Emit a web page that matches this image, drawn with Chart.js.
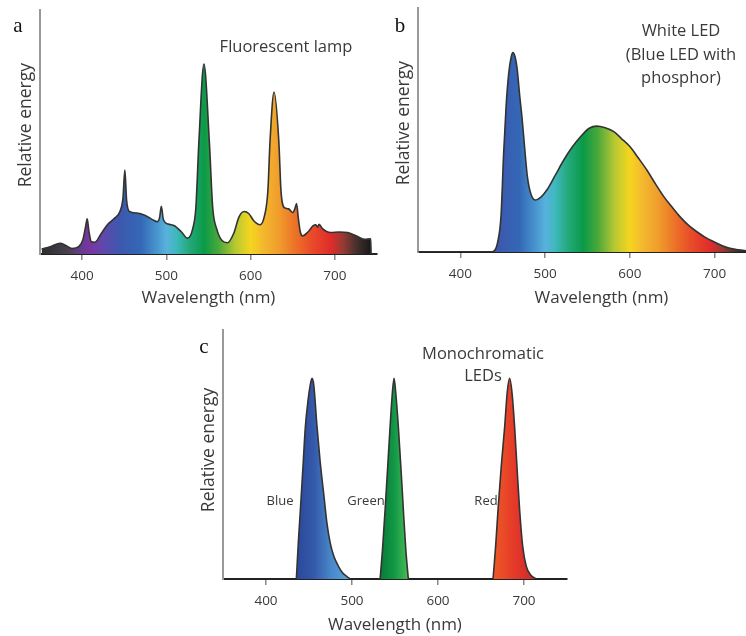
<!DOCTYPE html>
<html>
<head>
<meta charset="utf-8">
<script src="https://cdn.jsdelivr.net/npm/chart.js@4.4.1/dist/chart.umd.min.js"></script>
<style>
  html, body { margin: 0; padding: 0; background: #fff; }
  #page { position: relative; width: 746px; height: 636px; overflow: hidden; font-family: "Open Sans", sans-serif; color: #3a3a3a; }
  canvas { position: absolute; }
  .txt { position: absolute; white-space: nowrap; transform: translate(-50%, -50%); text-align: center; }
  .letter { font-family: "Liberation Serif", serif; font-size: 21px; color: #111; line-height: 1; }
  .title { font-size: 16.5px; line-height: 23px; }
  .small { font-size: 13px; line-height: 1; }
</style>
</head>
<body>
<div id="page">
  <canvas id="chartA" width="380" height="310" style="left:0;top:0"></canvas>
  <canvas id="chartB" width="410" height="310" style="left:380px;top:0"></canvas>
  <canvas id="chartC" width="400" height="316" style="left:180px;top:320px"></canvas>

  <div class="txt letter" style="left:18px;top:25px">a</div>
  <div class="txt letter" style="left:400px;top:25px">b</div>
  <div class="txt letter" style="left:204px;top:346px">c</div>

  <div class="txt title" style="left:286px;top:45px">Fluorescent lamp</div>
  <div class="txt title" style="left:681px;top:53px;line-height:23.5px">White LED<br>(Blue LED with<br>phosphor)</div>
  <div class="txt title" style="left:483px;top:364px;line-height:22px">Monochromatic<br>LEDs</div>

  <div class="txt small" style="left:280px;top:500px">Blue</div>
  <div class="txt small" style="left:366px;top:500px">Green</div>
  <div class="txt small" style="left:486px;top:500px">Red</div>
</div>
<script>
// wavelength ticks shared by all three panels
const xTicks = [400, 500, 600, 700];

// a: fluorescent lamp spectrum (nm, relative energy 0-100)
const fluorNm = [352, 362, 374, 380, 388, 396, 401, 404, 406, 408, 411, 415, 422, 430, 438, 445, 448.5, 450.7, 452.8, 456,
  465, 475, 484, 489, 492, 494, 496.5, 502, 510, 518, 525, 531, 535, 538.6, 544.6, 551, 555, 560, 566, 572.4,
  580, 586, 592.2, 598, 604, 611.2, 616, 620.5, 623, 627.8, 633.5, 636, 640, 645, 650, 652.5, 654.5, 656.5, 659, 661.6,
  668, 674, 677.4, 679.5, 681.3, 685, 695, 705, 715, 725, 735, 742.5, 743];
const fluorEnergy = [2, 3, 4.4, 3.6, 2.2, 3, 6, 11, 14.4, 9.5, 5, 4.8, 8, 12, 14.5, 17.5, 23, 34.4, 22, 17.5,
  16.8, 15.8, 14, 13.2, 15, 19.5, 14, 12.3, 11.5, 9, 6.5, 10, 19, 46, 77.8, 46, 19, 10, 5.5, 4.6,
  8.5, 15, 17.4, 16.5, 13.5, 12, 15, 26, 46, 66.4, 46, 26, 19, 18.5, 17, 18.5, 20.7, 15, 9, 7.4,
  9, 11.5, 12, 11, 12.2, 10.5, 8.8, 9, 8.8, 7.5, 6, 6.2, 0];

// b: white LED (blue LED + phosphor)
const whiteNm = [350, 435, 440, 444, 448, 451, 454, 457, 460, 462, 464.5, 467, 470, 473, 476, 479, 483, 488.5, 495,
  502, 512, 522, 532, 542, 552, 561, 570, 581, 590, 600, 610, 620, 630, 640, 650, 659, 669, 679, 689, 699,
  709, 718, 728, 737, 760, 783];
const whiteEnergy = [0, 0, 0.5, 4, 15, 40, 60, 73, 80, 81.7, 80, 75, 64, 54, 42, 31, 24, 21.3, 22.5,
  25.4, 31.5, 37.7, 43, 47.3, 50.7, 51.6, 51, 49.3, 46.5, 43.2, 38.5, 33.6, 28, 22.7, 18.3, 14.5, 11, 8.3, 6, 4.2,
  2.6, 1.5, 0.9, 0.5, 0.2, 0];

// c: monochromatic LEDs
const blueNm = [435.3, 437.5, 440, 443, 445.8, 449, 451.5, 453.5, 455.5, 459.3, 463, 467, 471, 474.7, 479, 484.4, 489, 494.1, 498];
const blueEnergy = [0, 14, 27.8, 45, 61.2, 72, 78, 80.6, 78, 61.2, 47, 34.5, 22, 14.4, 9, 5, 2.5, 1, 0];
const greenNm = [532.7, 535.5, 538.5, 541.5, 544.3, 547, 548.9, 550.8, 553.9, 557, 559.7, 562.5, 565.5];
const greenEnergy = [0, 12, 27.8, 45, 61.2, 75, 80.6, 75, 61, 44, 27.8, 12, 0];
const redNm = [664, 667, 669.8, 673.5, 677.5, 680.5, 683.3, 686, 689.1, 692, 694.9, 698.5, 702.7, 708, 714.3];
const redEnergy = [0, 13, 27.8, 45, 61, 75, 80.6, 75, 61, 44, 27.8, 13, 5, 1.5, 0];

// colour stops along the spectrum (nm, colour)
const spectrumStops = [[350, '#2b2b2b'], [382, '#48404c'], [400, '#6a3a92'], [410, '#7836a0'], [425, '#6048ac'],
  [445, '#3c58ae'], [470, '#3468b6'], [490, '#4a98d0'], [500, '#58b2dc'], [512, '#3eb8bc'], [528, '#22a878'],
  [545, '#0a9a48'], [562, '#4aa83a'], [582, '#b8c832'], [600, '#f5d51f'], [615, '#f3b82e'], [633, '#f09e2c'],
  [655, '#ec6e28'], [672, '#e84c2a'], [695, '#e02c2a'], [710, '#963a34'], [726, '#42302e'], [745, '#141414']];
const blueStops = [[435, '#2a489a'], [455, '#3458aa'], [475, '#4886c8'], [498, '#5aa8dc']];
const greenStops = [[532, '#0a7838'], [549, '#119846'], [566, '#4cbc54']];
const redStops = [[664, '#ee5a26'], [690, '#e4382a'], [714, '#c8282a']];

const FONT = '"Open Sans", sans-serif';
const TEXT = '#3a3a3a';

function toPoints(xs, ys) {
  return xs.map((x, i) => ({x: x, y: ys[i]}));
}

function gradientFill(stops) {
  const lo = stops[0][0], hi = stops[stops.length - 1][0];
  return function (context) {
    const chart = context.chart;
    if (!chart.chartArea) return null;
    const x = chart.scales.x;
    const g = chart.ctx.createLinearGradient(x.getPixelForValue(lo), 0, x.getPixelForValue(hi), 0);
    stops.forEach(([nm, col]) => g.addColorStop((nm - lo) / (hi - lo), col));
    return g;
  };
}

function spectrumSet(xs, ys, stops) {
  return {
    data: toPoints(xs, ys),
    backgroundColor: gradientFill(stops),
    borderColor: '#333',
    borderWidth: 1.6,
    fill: 'origin',
    pointRadius: 0,
    cubicInterpolationMode: 'monotone'
  };
}

// p = pixel layout of a panel: plot box inside its canvas
function makeChart(id, datasets, xMax, p) {
  return new Chart(document.getElementById(id), {
    type: 'line',
    data: {datasets: datasets},
    options: {
      responsive: false,
      animation: false,
      events: [],
      layout: {padding: {top: p.top, right: p.right, left: 0, bottom: 0}},
      plugins: {legend: {display: false}, tooltip: {enabled: false}},
      scales: {
        x: {
          type: 'linear',
          min: 350,
          max: xMax,
          afterBuildTicks: (s) => { s.ticks = xTicks.map(v => ({value: v})); },
          afterFit: (s) => { s.height = p.xh; },
          grid: {display: true, drawOnChartArea: false, drawTicks: true, tickLength: 6, color: '#888', lineWidth: 1.5},
          border: {display: true, color: '#222', width: 2},
          ticks: {font: {family: FONT, size: 13.5}, color: TEXT, padding: 8, maxRotation: 0},
          title: {display: true, text: 'Wavelength (nm)', font: {family: FONT, size: 17}, color: TEXT,
            padding: {top: 0, bottom: p.xtb}}
        },
        y: {
          min: 0,
          max: 100,
          afterFit: (s) => { s.width = p.yw; },
          grid: {display: false},
          border: {display: true, color: '#999', width: 2},
          ticks: {display: false},
          title: {display: true, text: p.ytext, font: {family: FONT, size: 17.5}, color: TEXT,
            padding: {top: p.ytp, bottom: 0}}
        }
      }
    }
  });
}

makeChart('chartA', [spectrumSet(fluorNm, fluorEnergy, spectrumStops)], 750,
  {top: 10, right: 3, xh: 56, xtb: 2, yw: 40, ytp: 15.5, ytext: '   Relative energy'});

makeChart('chartB', [spectrumSet(whiteNm, whiteEnergy, spectrumStops)], 783,
  {top: 8, right: 5, xh: 58, xtb: 2, yw: 38, ytp: 14, ytext: '   Relative energy'});

makeChart('chartC', [
  spectrumSet(blueNm, blueEnergy, blueStops),
  spectrumSet(greenNm, greenEnergy, greenStops),
  spectrumSet(redNm, redEnergy, redStops)
], 750, {top: 10, right: 13, xh: 57, xtb: 1, yw: 43, ytp: 19, ytext: '  Relative energy'});
</script>
</body>
</html>
